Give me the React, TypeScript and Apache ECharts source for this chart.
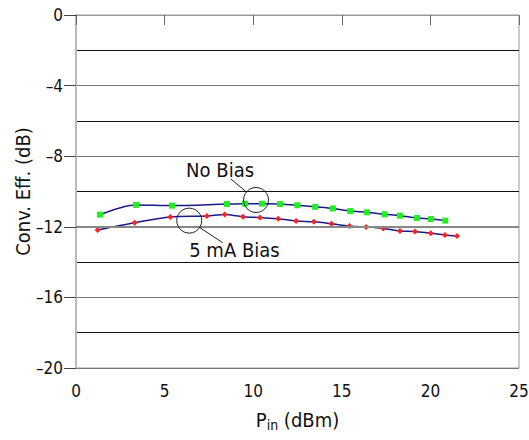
import React, { useEffect, useRef } from "react";
import * as echarts from "echarts";

const noBiasX = [1.35, 3.39, 5.42, 8.52, 9.54, 10.5, 11.51, 12.49, 13.5, 14.5, 15.48, 16.42, 17.42, 18.28, 19.24, 20.03, 20.84];
const noBiasY = [-11.31, -10.76, -10.8, -10.71, -10.69, -10.69, -10.71, -10.78, -10.87, -10.96, -11.11, -11.18, -11.29, -11.37, -11.5, -11.56, -11.65];
const biasX = [1.22, 3.31, 5.32, 7.39, 8.39, 9.42, 10.38, 11.41, 12.42, 13.42, 14.42, 15.43, 16.37, 17.34, 18.28, 19.13, 20.02, 20.82, 21.5];
const biasY = [-12.18, -11.77, -11.44, -11.39, -11.31, -11.43, -11.48, -11.54, -11.67, -11.72, -11.83, -11.96, -12.01, -12.09, -12.24, -12.26, -12.37, -12.46, -12.52];

// annotations in data coordinates
const annoLabels = ["No Bias", "5 mA Bias"];
const annoText = [[8.13, -8.78], [8.94, -13.34]];
const annoCircle = [[10.16, -10.48], [6.39, -11.65]];

const FONT = "'Liberation Sans Narrow', 'Arial Narrow', 'DejaVu Sans Condensed', sans-serif";

export default function App() {
  const ref = useRef<HTMLDivElement>(null);
  useEffect(() => {
    document.body.style.margin = "0";
    const chart = echarts.init(ref.current!, null, { renderer: "svg" });
    const zip = (xs: number[], ys: number[]) => xs.map((x, i) => [x, ys[i]]);
    chart.setOption({
      animation: false,
      textStyle: { fontFamily: FONT },
      grid: {
        left: 76, right: 10, top: 15, bottom: 72, show: true, borderColor: "#999", borderWidth: 1,
        containLabel: false, outerBoundsMode: "none",
      },
      xAxis: {
        type: "value", min: 0, max: 25, interval: 5,
        name: "{a|P}{s|in}{a| (dBm)}", nameLocation: "middle", nameGap: 40, nameMoveOverlap: false,
        nameTextStyle: {
          rich: {
            a: { fontSize: 20, fontFamily: FONT, color: "#111" },
            s: { fontSize: 14, fontFamily: FONT, color: "#111", padding: [10, 0, 0, 0] },
          },
        },
        axisLine: { lineStyle: { color: "#999", width: 1 } },
        axisTick: { length: 10, lineStyle: { color: "#666" } },
        axisLabel: { fontSize: 17, color: "#111", margin: 14, fontFamily: FONT },
        splitLine: { show: false },
      },
      yAxis: {
        type: "value", min: -20, max: 0, interval: 4,
        name: "Conv. Eff. (dB)", nameLocation: "middle", nameGap: 43, nameMoveOverlap: false,
        nameTextStyle: { fontSize: 20, color: "#111", fontFamily: FONT },
        axisLine: { show: true, lineStyle: { color: "#bbb", width: 2 } },
        axisTick: { show: true, length: 12, lineStyle: { color: "#444", width: 1 } },
        axisLabel: {
          fontSize: 17, color: "#111", margin: 13, fontFamily: FONT,
          formatter: (v: number) => String(v).replace("-", "\u2013"),
        },
        splitLine: { show: true, lineStyle: { color: "#777", width: 1 } },
        minorTick: { show: false, splitNumber: 2 },
        minorSplitLine: { show: true, lineStyle: { color: "#111", width: 1 } },
      },
      series: [
        {
          type: "line", data: zip(noBiasX, noBiasY), smooth: 0.3,
          symbol: "rect", symbolSize: 6,
          itemStyle: { color: "#22ee22" },
          lineStyle: { color: "#1a1a8c", width: 1.5 },
          markLine: {
            silent: true, symbol: "none", label: { show: false },
            lineStyle: { color: "#888", width: 2, type: "solid" },
            data: [{ yAxis: -12 }],
          },
          z: 3,
        },
        {
          type: "line", data: zip(biasX, biasY), smooth: 0.3,
          symbol: "diamond", symbolSize: 6,
          itemStyle: { color: "#ff2020" },
          lineStyle: { color: "#1a1a8c", width: 1.5 },
          z: 3,
        },
      ],
    });
    const graphics: any[] = [];
    annoLabels.forEach((lab, i) => {
      const t = chart.convertToPixel({ gridIndex: 0 }, annoText[i]) as number[];
      const c = chart.convertToPixel({ gridIndex: 0 }, annoCircle[i]) as number[];
      const r = 12.5;
      graphics.push({
        type: "circle", shape: { cx: c[0], cy: c[1], r },
        style: { fill: "none", stroke: "#222", lineWidth: 1 }, z: 10,
      });
      const dx = t[0] - c[0], dy = t[1] - c[1];
      const d = Math.hypot(dx, dy);
      const ux = dx / d, uy = dy / d;
      const sx = c[0] + ux * r, sy = c[1] + uy * r;
      const ex = c[0] + ux * (d - 14), ey = c[1] + uy * (d - 14);
      graphics.push({
        type: "line", shape: { x1: sx, y1: sy, x2: ex, y2: ey },
        style: { stroke: "#222", lineWidth: 1 }, z: 10,
      });
      graphics.push({
        type: "text", x: t[0], y: t[1],
        style: { text: lab, fontSize: 20, fontFamily: FONT, fill: "#111", align: "center", verticalAlign: "middle" },
        z: 11,
      });
    });
    chart.setOption({ graphic: graphics });
    return () => chart.dispose();
  }, []);
  return <div ref={ref} style={{ width: 529, height: 440 }} />;
}
